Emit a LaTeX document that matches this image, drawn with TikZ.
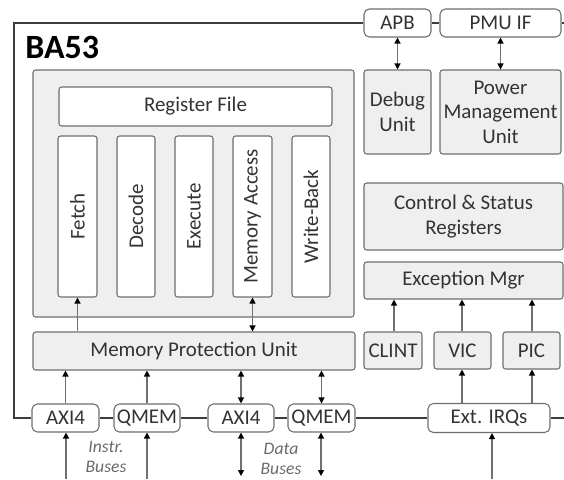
\documentclass[tikz,border=0pt]{standalone}
\usepackage{fontspec}
\setmainfont{Carlito}
\usetikzlibrary{arrows.meta}
\definecolor{txt}{HTML}{333333}
\definecolor{bord}{HTML}{6E6E6E}
\definecolor{gfill}{HTML}{EFEFEF}
\definecolor{frame}{HTML}{3C3C3C}
\definecolor{arrline}{HTML}{707070}
\definecolor{note}{HTML}{6A6A6A}
\newcommand\lblfont{\fontsize{15.7}{18.3}\selectfont}
\begin{document}
\begin{tikzpicture}[x=0.75pt,y=-0.75pt,
  sz/.style 2 args={minimum width=#1*0.75pt, minimum height=#2*0.75pt},
  box/.style={draw=bord, line width=0.8pt, rounded corners=2pt, inner sep=0pt, align=center, text=txt, font=\lblfont},
  gbox/.style={box, fill=gfill},
  wbox/.style={box, fill=white},
  busbox/.style={wbox, rounded corners=4pt},
  frameline/.style={draw=frame, line width=1.5pt},
  arr/.style={draw=arrline, line width=0.9pt, -{Triangle[color=black,length=4.5pt,width=4.5pt]}},
  darr/.style={draw=arrline, line width=0.9pt, {Triangle[color=black,length=4.5pt,width=4.5pt]}-{Triangle[color=black,length=4.5pt,width=4.5pt]}},
  note/.style={align=center, text=note, font=\fontsize{13.2}{14.6}\selectfont\itshape, inner sep=1pt}
]
\useasboundingbox (0,0) rectangle (564,479);

% frame corners
\coordinate (tl) at (14,23);
\coordinate (bl) at (14,418);
\coordinate (tr) at (564,23);
\coordinate (br) at (564,418);

\node[anchor=base west, text=black, font=\fontsize{25.5}{30}\selectfont\bfseries, inner sep=0pt] (title) at (25,58) {BA53};

% core
\node[gbox, sz={321}{247}] (core) at (193.5,193.5) {};
\node[wbox, sz={273}{39}] (regfile) at (195.5,106.5) {Register File};
\node[wbox, sz={39}{161}] (fetch) at (77.5,216.5) {\rotatebox{90}{Fetch}};
\node[wbox, sz={38}{161}] (decode) at (136,216.5) {\rotatebox{90}{Decode}};
\node[wbox, sz={38}{161}] (execute) at (194,216.5) {\rotatebox{90}{Execute}};
\node[wbox, sz={39}{161}] (memacc) at (252.5,216.5) {\rotatebox{90}{Memory Access}};
\node[wbox, sz={38}{161}] (wb) at (311,216.5) {\rotatebox{90}{Write-Back}};

\node[gbox, sz={322}{38}] (mpu) at (194,351) {Memory Protection Unit};

% buses
\node[busbox, sz={67}{28}] (axi1) at (65.5,418) {AXI4};
\node[busbox, sz={66}{28}] (qmem1) at (147,418) {QMEM};
\node[busbox, sz={66}{28}] (axi2) at (241,418) {AXI4};
\node[busbox, sz={67}{28}] (qmem2) at (321.5,418) {QMEM};
\node[busbox, sz={122}{29}] (extirq) at (489,418) {Ext. IRQs};

% right side
\node[busbox, sz={67}{28}] (apb) at (397.5,23) {APB};
\node[busbox, sz={121}{28}] (pmuif) at (500.5,23) {PMU IF};
\node[gbox, sz={67}{84}] (debug) at (397.5,112) {Debug\\Unit};
\node[gbox, sz={121}{84}] (pmu) at (500.5,112) {Power\\Management\\Unit};
\node[gbox, sz={199}{67}] (csr) at (463.5,216.5) {Control \& Status\\Registers};
\node[gbox, sz={199}{37}] (exc) at (463.5,280.5) {Exception Mgr};
\node[gbox, sz={58}{37}] (clint) at (393,350.5) {CLINT};
\node[gbox, sz={57}{37}] (vic) at (462.5,350.5) {VIC};
\node[gbox, sz={57}{37}] (pic) at (531.5,350.5) {PIC};

% frame lines
\draw[frameline] (apb.west) -- (tl) -- (bl) -- (axi1.west);
\draw[frameline] (apb.east) -- (pmuif.west);
\draw[frameline] (pmuif.east) -- (tr);
\draw[frameline] (axi1.east) -- (qmem1.west);
\draw[frameline] (qmem1.east) -- (axi2.west);
\draw[frameline] (axi2.east) -- (qmem2.west);
\draw[frameline] (qmem2.east) -- (extirq.west);
\draw[frameline] (extirq.east) -- (br);

% internal arrows
\draw[arr] (mpu.north -| fetch.south) -- (fetch.south);
\draw[darr] (memacc.south) -- (memacc.south |- mpu.north);
\draw[arr] (axi1.north) -- (axi1.north |- mpu.south);
\draw[arr] (qmem1.north) -- (qmem1.north |- mpu.south);
\draw[darr] (axi2.north) -- (axi2.north |- mpu.south);
\draw[darr] (qmem2.north) -- (qmem2.north |- mpu.south);

\draw[darr] (apb.south) -- (debug.north);
\draw[darr] (pmuif.south) -- (pmu.north);

\coordinate (clintx) at (394,0);
\coordinate (vicx) at (462,0);
\coordinate (picx) at (532,0);
\draw[arr] (clint.north -| clintx) -- (exc.south -| clintx);
\draw[arr] (vic.north -| vicx) -- (exc.south -| vicx);
\draw[arr] (pic.north -| picx) -- (exc.south -| picx);
\draw[arr] (extirq.north -| vicx) -- (vic.south -| vicx);
\draw[arr] (extirq.north -| picx) -- (pic.south -| picx);

% external bus arrows
\coordinate (in1) at (66,479);
\coordinate (in2) at (147,479);
\coordinate (out1) at (241,476);
\coordinate (out2) at (321,476);
\coordinate (irqin) at (492,479);
\draw[arr] (in1) -- (in1 |- axi1.south);
\draw[arr] (in2) -- (in2 |- qmem1.south);
\draw[darr] (axi2.south) -- (out1);
\draw[darr] (out2 |- qmem2.south) -- (out2);
\draw[arr] (irqin) -- (irqin |- extirq.south);

\node[note] (instr) at (106,457) {Instr.\\Buses};
\node[note] (data) at (281,459) {Data\\Buses};
\end{tikzpicture}
\end{document}
